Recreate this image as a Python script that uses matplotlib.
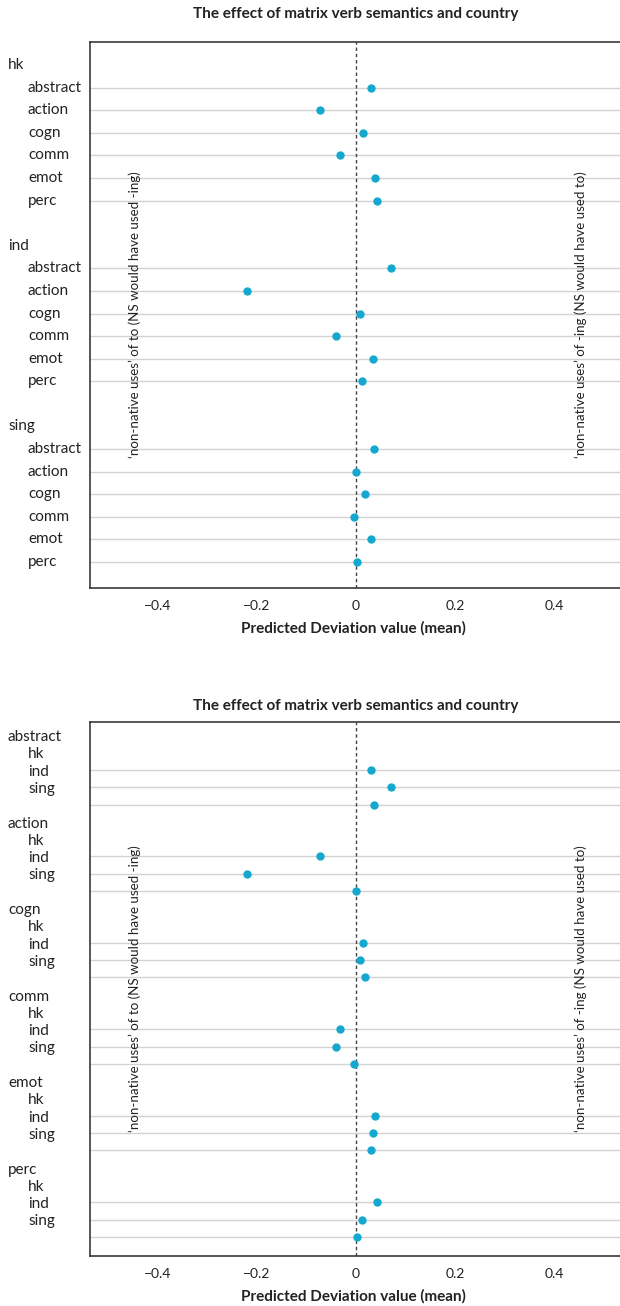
import numpy as np
import matplotlib.pyplot as plt
from matplotlib.transforms import blended_transform_factory

plt.rcParams['font.family'] = ['Lato', 'DejaVu Sans']

countries = ["hk", "ind", "sing"]
semantics = ["abstract", "action", "cogn", "comm", "emot", "perc"]
# predicted deviation (mean) per country, in semantics order
hk = [0.030, -0.073, 0.014, -0.032, 0.038, 0.042]
ind = [0.071, -0.220, 0.008, -0.040, 0.034, 0.012]
sing = [0.036, 0.000, 0.018, -0.004, 0.030, 0.002]
values = {"hk": hk, "ind": ind, "sing": sing}

title = "The effect of matrix verb semantics and country"
xlabel = "Predicted Deviation value (mean)"
left_note = "\u2018non-native uses\u2019 of to (NS would have used -ing)"
right_note = "\u2018non-native uses\u2019 of -ing (NS would have used to)"
xticks = [-0.4, -0.2, 0, 0.2, 0.4]
xticklabels = ["\u22120.4", "\u22120.2", "0", "0.2", "0.4"]

DOT = "#14a8d0"
GRID = "#d2d2d2"
SPINE = "#3a3a3a"
TXT = "#222222"
W, H = 620, 1306
XLIM = (-0.537, 0.533)

fig = plt.figure(figsize=(W / 100, H / 100), dpi=100)


def px_axes(top, bottom, left=90, right=620):
    return fig.add_axes([left / W, 1 - bottom / H, (right - left) / W, (bottom - top) / H])


def style(ax, ylim):
    ax.set_xlim(*XLIM)
    ax.set_ylim(*ylim)
    ax.set_yticks([])
    ax.set_xticks(xticks)
    ax.set_xticklabels(xticklabels, fontsize=10, color=TXT)
    ax.tick_params(axis="x", length=0, pad=9)
    ax.spines["right"].set_visible(False)
    for s in ["top", "left", "bottom"]:
        ax.spines[s].set_color(SPINE)
        ax.spines[s].set_linewidth(1.2)
    ax.axvline(0, color="#444444", lw=1, dashes=(2.5, 2), zorder=2)
    ax.text(0.085, 0.5, left_note, transform=ax.transAxes, rotation=90,
            ha="center", va="center", fontsize=9.6, color=TXT)
    ax.text(0.925, 0.5, right_note, transform=ax.transAxes, rotation=90,
            ha="center", va="center", fontsize=9.6, color=TXT)


def row_label(ax, x_px, row, s):
    tr = blended_transform_factory(fig.transFigure, ax.transData)
    ax.text(x_px / W, row, s, transform=tr, ha="left", va="center",
            fontsize=11, color=TXT, clip_on=False)


# ---- top panel: country -> semantics
ax1 = px_axes(42, 588)
style(ax1, (23.15, -1.02))
for g, c in enumerate(countries):
    head = 8 * g
    row_label(ax1, 8, head, c)
    for i, sem in enumerate(semantics):
        r = head + 1 + i
        row_label(ax1, 28, r, sem)
        ax1.axhline(r, color=GRID, lw=1, zorder=1)
        ax1.plot(values[c][i], r, "o", color=DOT, ms=5, zorder=3)
fig.text(356 / W, 1 - 14 / H, title, ha="center", va="center",
         fontsize=11, fontweight="bold", color=TXT)
fig.text(353 / W, 1 - 628 / H, xlabel, ha="center", va="center",
         fontsize=11, fontweight="bold", color=TXT)

# ---- bottom panel: semantics -> country (points sit just below their labels)
shift = 0.9
ax2 = px_axes(722, 1256)
style(ax2, (30.0, -0.87))
for g, sem in enumerate(semantics):
    head = 5 * g
    row_label(ax2, 8, head, sem)
    for i, c in enumerate(countries):
        r = head + 1 + i
        row_label(ax2, 28, r, c)
        ax2.axhline(r + shift, color=GRID, lw=1, zorder=1)
        ax2.plot(values[c][g], r + shift, "o", color=DOT, ms=5, zorder=3)
fig.text(356 / W, 1 - 706 / H, title, ha="center", va="center",
         fontsize=11, fontweight="bold", color=TXT)
fig.text(353 / W, 1 - 1296 / H, xlabel, ha="center", va="center",
         fontsize=11, fontweight="bold", color=TXT)

fig.savefig("out.png", dpi=100)
